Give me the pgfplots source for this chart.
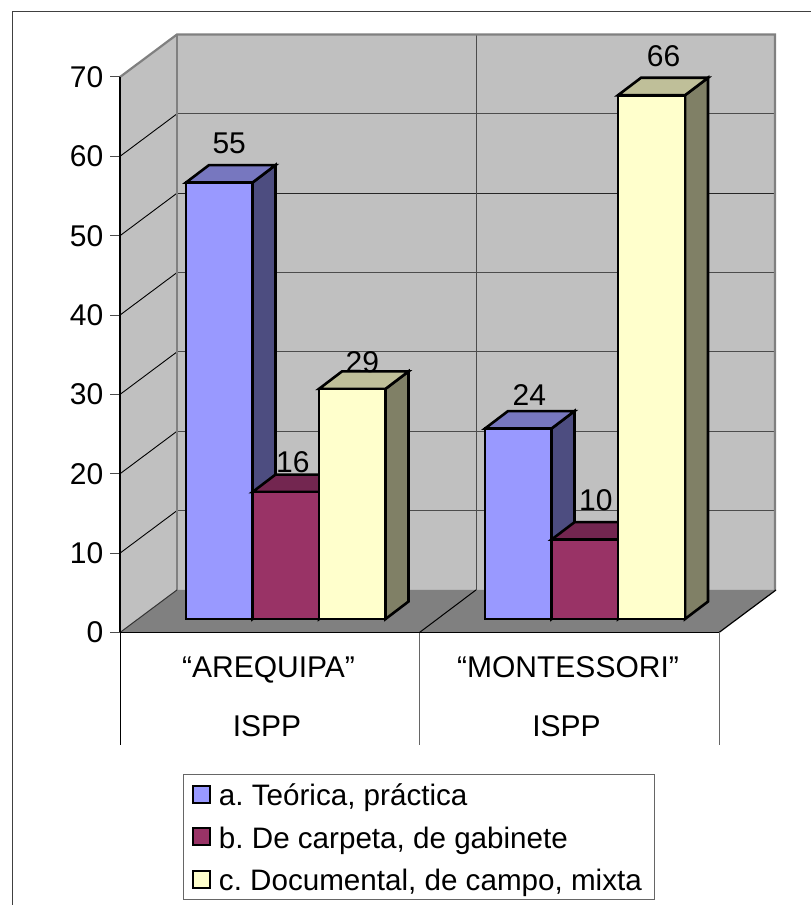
\documentclass[border=0pt]{standalone}
\usepackage{fontspec}
\setmainfont{Liberation Sans}
\usepackage{pgfplots}
\pgfplotsset{compat=1.18}
\definecolor{blueF}{HTML}{9999FF}\definecolor{blueT}{HTML}{7777BF}\definecolor{blueS}{HTML}{4D4D80}
\definecolor{redF}{HTML}{993366}\definecolor{redT}{HTML}{732650}\definecolor{redS}{HTML}{4D1A33}
\definecolor{yelF}{HTML}{FFFFCC}\definecolor{yelT}{HTML}{BFBF99}\definecolor{yelS}{HTML}{808066}
\definecolor{wall}{HTML}{C0C0C0}\definecolor{floorc}{HTML}{808080}
\newcommand{\bigf}{\fontsize{30}{58.5}\selectfont}
\newcommand{\legf}{\fontsize{29.6}{36}\selectfont}
\pgfplotsset{box/.style={draw=black,line width=2.6pt,line join=miter},
  val/.style={nodes near coords={\bigf\pgfmathprintnumber\pgfplotspointmeta},
    every node near coord/.append style={anchor=center}}}
% one bar: side polygon and top polygon, then the front bar with its value
\newcommand{\sidetop}[5]{%
  \addplot[fill=#4,box,forget plot] coordinates {(#2,0) (#2+23,2.2) (#2+23,#3+2.2) (#2,#3)} -- cycle;
  \addplot[fill=#5,box,forget plot] coordinates {(#1,#3) (#1+23,#3+2.2) (#2+23,#3+2.2) (#2,#3)} -- cycle;
}
\begin{document}
\begin{tikzpicture}[x=1pt,y=1pt]
\useasboundingbox (0,0) rectangle (811,905);
\draw[color=black!75,line width=1.4pt] (12.5,0) -- (12.5,893.5) -- (811,893.5);
\begin{axis}[
  at={(120pt,272.5pt)},anchor=south west,scale only axis,
  width=599pt,height=555.5pt,
  xmin=120,xmax=719,ymin=0,ymax=70,clip=false,
  axis x line*=bottom,axis y line*=left,axis on top,
  axis line style={black,line width=1.1pt},
  xtick={269.5,569},xticklabels={{“AREQUIPA”\\ISPP\hspace*{3pt}},{“MONTESSORI”\\ISPP\hspace*{3pt}}},
  xticklabel style={align=center,font=\bigf,yshift=-11pt,xshift=-1pt},
  x tick style={draw=none},major tick length=10pt,
  ytick={0,10,20,30,40,50,60,70},
  y tick style={draw=black!70,line width=1pt},tick align=outside,
  yticklabel style={font=\bigf,inner xsep=0pt,xshift=-6.5pt},
  /pgf/number format/assume math mode=true,
]
% walls and floor
\addplot[fill=wall,draw=none] coordinates {(120,0) (177,5.36) (177,75.36) (120,70)} -- cycle;
\addplot[fill=wall,draw=none] coordinates {(177,5.36) (775,5.36) (775,75.36) (177,75.36)} -- cycle;
\addplot[fill=floorc,draw=none] coordinates {(120,0) (177,5.36) (776,5.36) (719,0)} -- cycle;
% gridlines on the back wall
\addplot[black!70,line width=1pt] coordinates {(177,15.36) (775,15.36)};
\addplot[black!70,line width=1pt] coordinates {(177,25.36) (775,25.36)};
\addplot[black!70,line width=1pt] coordinates {(177,35.36) (775,35.36)};
\addplot[black!70,line width=1pt] coordinates {(177,45.36) (775,45.36)};
\addplot[black!85,line width=1pt] coordinates {(177,55.36) (775,55.36)};
\addplot[black!70,line width=1pt] coordinates {(177,65.36) (775,65.36)};
\addplot[black!70,line width=1pt] coordinates {(476,5.36) (476,75.36)};
% gridlines on the side wall
\addplot[black,line width=.9pt] coordinates {(120,10) (177,15.36)};
\addplot[black,line width=.9pt] coordinates {(120,20) (177,25.36)};
\addplot[black,line width=.9pt] coordinates {(120,30) (177,35.36)};
\addplot[black,line width=.9pt] coordinates {(120,40) (177,45.36)};
\addplot[black,line width=.9pt] coordinates {(120,50) (177,55.36)};
\addplot[black,line width=.9pt] coordinates {(120,60) (177,65.36)};
% edges
\addplot[floorc,line width=2.2pt] coordinates {(120,70) (177,75.36) (775,75.36) (775,5.36)};
\addplot[floorc,line width=1.8pt] coordinates {(177,75.36) (177,5.36)};
\addplot[black!80,line width=1pt] coordinates {(120,0) (177,5.36)};
\addplot[black,line width=1pt] coordinates {(419.5,0) (476,5.36)};
\addplot[black,line width=1.2pt] coordinates {(719,0) (776,5.36)};
% category separators
\addplot[black,line width=1pt] coordinates {(120,0) (120,-14.18)};
\addplot[black!60,line width=1pt] coordinates {(419.5,0) (419.5,-14.18)};
\addplot[black!60,line width=1pt] coordinates {(719,0) (719,-14.18)};
\end{axis}
\begin{axis}[
  at={(120pt,286pt)},anchor=south west,scale only axis,
  width=599pt,height=555.5pt,
  xmin=120,xmax=719,ymin=0,ymax=70,clip=false,hide axis,
  /pgf/number format/assume math mode=true,
  legend style={at={(axis description cs:0.106,-0.279)},anchor=north west,
    draw=black!60,line width=1pt,font=\legf,row sep=12.7pt,inner xsep=8pt,inner ysep=5.5pt,
    cells={anchor=west,inner sep=0pt,text height=24pt,text depth=7pt},
    column sep=6pt},
  bar width=66.5pt,
]
% Arequipa
\sidetop{186}{252.5}{55}{blueS}{blueT}
\addplot[ybar,bar shift=0pt,fill=blueF,box,forget plot,val,every node near coord/.append style={xshift=10pt,yshift=39pt}] coordinates {(219.25,55)};
\sidetop{252.5}{319}{16}{redS}{redT}
\addplot[ybar,bar shift=0pt,fill=redF,box,forget plot,val,every node near coord/.append style={xshift=7pt,yshift=30pt}] coordinates {(285.75,16)};
\sidetop{319}{385.5}{29}{yelS}{yelT}
\addplot[ybar,bar shift=0pt,fill=yelF,box,forget plot,val,every node near coord/.append style={xshift=10pt,yshift=27pt}] coordinates {(352.25,29)};
% Montessori
\sidetop{485}{551.5}{24}{blueS}{blueT}
\addplot[ybar,bar shift=0pt,fill=blueF,box,forget plot,val,every node near coord/.append style={xshift=11pt,yshift=34pt}] coordinates {(518.25,24)};
\sidetop{551.5}{618}{10}{redS}{redT}
\addplot[ybar,bar shift=0pt,fill=redF,box,forget plot,val,every node near coord/.append style={xshift=11pt,yshift=39pt}] coordinates {(584.75,10)};
\sidetop{618}{685}{66}{yelS}{yelT}
\addplot[ybar,bar shift=0pt,bar width=67pt,fill=yelF,box,forget plot,val,every node near coord/.append style={xshift=12pt,yshift=39pt}] coordinates {(651.5,66)};
% legend
\addlegendimage{legend image code/.code={\draw[fill=blueF,draw=black,line width=2pt] (0pt,-8.5pt) rectangle (17pt,8.5pt);}}
\addlegendentry{a.\ Teórica, práctica}
\addlegendimage{legend image code/.code={\draw[fill=redF,draw=black,line width=2pt] (0pt,-8.5pt) rectangle (17pt,8.5pt);}}
\addlegendentry{b.\ De carpeta, de gabinete}
\addlegendimage{legend image code/.code={\draw[fill=yelF,draw=black,line width=2pt] (0pt,-8.5pt) rectangle (17pt,8.5pt);}}
\addlegendentry{c.\ Documental, de campo, mixta\hspace*{3pt}}
\end{axis}
\end{tikzpicture}
\end{document}
